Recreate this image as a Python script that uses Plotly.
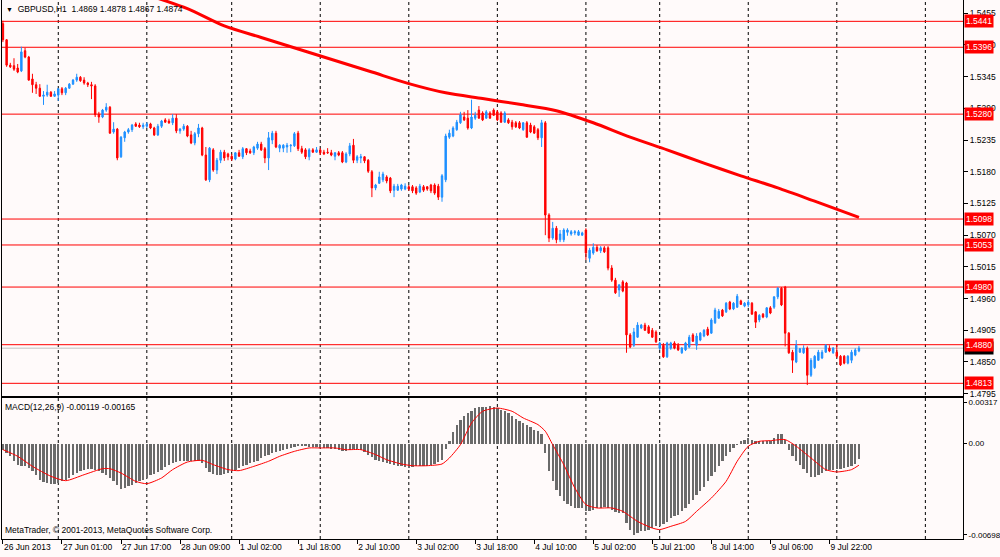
import plotly.graph_objects as go

# GBPUSD H1, bar 0 = 26 Jun 2013 09:00 (one bar per hour, weekend skipped)
opens = [
    1.5437, 1.5409, 1.5365, 1.5364, 1.5360, 1.5355, 1.5390, 1.5379, 1.5341, 1.5331,
    1.5325, 1.5311, 1.5313, 1.5318, 1.5311, 1.5313, 1.5324, 1.5317, 1.5325, 1.5332,
    1.5339, 1.5344, 1.5339, 1.5334, 1.5331, 1.5329, 1.5280, 1.5275, 1.5287, 1.5292,
    1.5249, 1.5254, 1.5206, 1.5239, 1.5249, 1.5253, 1.5263, 1.5261, 1.5258, 1.5259,
    1.5263, 1.5256, 1.5244, 1.5259, 1.5270, 1.5268, 1.5265, 1.5273, 1.5251, 1.5254,
    1.5259, 1.5244, 1.5230, 1.5246, 1.5256, 1.5209, 1.5166, 1.5218, 1.5183, 1.5200,
    1.5214, 1.5211, 1.5207, 1.5202, 1.5213, 1.5206, 1.5220, 1.5216, 1.5213, 1.5221,
    1.5228, 1.5220, 1.5204, 1.5235, 1.5247, 1.5221, 1.5221, 1.5223, 1.5225, 1.5225,
    1.5247, 1.5220, 1.5218, 1.5206, 1.5218, 1.5214, 1.5218, 1.5214, 1.5214, 1.5213,
    1.5207, 1.5213, 1.5213, 1.5197, 1.5211, 1.5226, 1.5200, 1.5204, 1.5206, 1.5200,
    1.5180, 1.5152, 1.5160, 1.5166, 1.5171, 1.5169, 1.5148, 1.5148, 1.5150, 1.5150,
    1.5154, 1.5154, 1.5152, 1.5145, 1.5154, 1.5154, 1.5157, 1.5157, 1.5155, 1.5136,
    1.5166, 1.5240, 1.5242, 1.5253, 1.5265, 1.5275, 1.5273, 1.5256, 1.5273, 1.5287,
    1.5282, 1.5273, 1.5282, 1.5287, 1.5284, 1.5282, 1.5266, 1.5270, 1.5266, 1.5265,
    1.5265, 1.5253, 1.5265, 1.5261, 1.5258, 1.5253, 1.5239, 1.5265, 1.5105, 1.5065,
    1.5082, 1.5062, 1.5062, 1.5075, 1.5072, 1.5074, 1.5070, 1.5070, 1.5079, 1.5030,
    1.5039, 1.5049, 1.5043, 1.5048, 1.5048, 1.5013, 1.4992, 1.4975, 1.4989, 1.4987,
    1.4897, 1.4879, 1.4893, 1.4909, 1.4914, 1.4911, 1.4905, 1.4902, 1.4874, 1.4879,
    1.4859, 1.4874, 1.4883, 1.4879, 1.4866, 1.4871, 1.4876, 1.4897, 1.4879, 1.4888,
    1.4895, 1.4907, 1.4900, 1.4918, 1.4926, 1.4940, 1.4937, 1.4954, 1.4942, 1.4945,
    1.4956, 1.4947, 1.4949, 1.4952, 1.4937, 1.4923, 1.4933, 1.4928, 1.4944, 1.4945,
    1.4963, 1.4978, 1.4980, 1.4900, 1.4867, 1.4850, 1.4867, 1.4866, 1.4874, 1.4827,
    1.4840, 1.4853, 1.4857, 1.4867, 1.4874, 1.4866, 1.4867, 1.4860, 1.4860, 1.4848,
    1.4853, 1.4862, 1.4869,
]
highs = [
    1.5442, 1.5410, 1.5369, 1.5377, 1.5367, 1.5397, 1.5395, 1.5381, 1.5350, 1.5336,
    1.5332, 1.5320, 1.5331, 1.5320, 1.5320, 1.5325, 1.5327, 1.5327, 1.5334, 1.5341,
    1.5350, 1.5346, 1.5344, 1.5336, 1.5336, 1.5332, 1.5284, 1.5289, 1.5299, 1.5294,
    1.5266, 1.5256, 1.5242, 1.5251, 1.5256, 1.5263, 1.5266, 1.5265, 1.5265, 1.5266,
    1.5265, 1.5258, 1.5263, 1.5270, 1.5273, 1.5272, 1.5280, 1.5280, 1.5256, 1.5263,
    1.5261, 1.5251, 1.5249, 1.5263, 1.5258, 1.5223, 1.5223, 1.5221, 1.5204, 1.5218,
    1.5218, 1.5213, 1.5211, 1.5214, 1.5218, 1.5223, 1.5221, 1.5220, 1.5225, 1.5232,
    1.5232, 1.5223, 1.5249, 1.5251, 1.5251, 1.5228, 1.5228, 1.5230, 1.5228, 1.5249,
    1.5251, 1.5225, 1.5221, 1.5221, 1.5221, 1.5223, 1.5221, 1.5218, 1.5221, 1.5218,
    1.5214, 1.5216, 1.5216, 1.5214, 1.5230, 1.5237, 1.5209, 1.5211, 1.5207, 1.5202,
    1.5183, 1.5159, 1.5180, 1.5180, 1.5174, 1.5171, 1.5159, 1.5159, 1.5159, 1.5160,
    1.5157, 1.5157, 1.5155, 1.5159, 1.5157, 1.5155, 1.5159, 1.5160, 1.5159, 1.5176,
    1.5246, 1.5253, 1.5259, 1.5270, 1.5284, 1.5284, 1.5287, 1.5305, 1.5284, 1.5294,
    1.5285, 1.5287, 1.5285, 1.5290, 1.5287, 1.5285, 1.5285, 1.5273, 1.5270, 1.5268,
    1.5268, 1.5266, 1.5268, 1.5265, 1.5261, 1.5256, 1.5270, 1.5268, 1.5108, 1.5093,
    1.5086, 1.5079, 1.5082, 1.5082, 1.5079, 1.5079, 1.5079, 1.5076, 1.5082, 1.5048,
    1.5056, 1.5053, 1.5051, 1.5051, 1.5051, 1.5018, 1.4996, 1.4984, 1.4992, 1.4989,
    1.4900, 1.4909, 1.4919, 1.4916, 1.4918, 1.4914, 1.4909, 1.4905, 1.4885, 1.4883,
    1.4885, 1.4885, 1.4886, 1.4883, 1.4876, 1.4885, 1.4897, 1.4900, 1.4900, 1.4902,
    1.4907, 1.4911, 1.4926, 1.4944, 1.4942, 1.4942, 1.4954, 1.4956, 1.4954, 1.4968,
    1.4958, 1.4954, 1.4958, 1.4954, 1.4938, 1.4933, 1.4935, 1.4945, 1.4947, 1.4964,
    1.4980, 1.4980, 1.4982, 1.4902, 1.4871, 1.4888, 1.4874, 1.4879, 1.4877, 1.4857,
    1.4862, 1.4871, 1.4871, 1.4881, 1.4879, 1.4876, 1.4881, 1.4862, 1.4862, 1.4862,
    1.4871, 1.4874, 1.4878,
]
lows = [
    1.5405, 1.5362, 1.5360, 1.5355, 1.5351, 1.5353, 1.5377, 1.5338, 1.5317, 1.5315,
    1.5310, 1.5296, 1.5310, 1.5310, 1.5310, 1.5303, 1.5313, 1.5313, 1.5324, 1.5331,
    1.5336, 1.5336, 1.5331, 1.5327, 1.5306, 1.5275, 1.5265, 1.5273, 1.5284, 1.5246,
    1.5246, 1.5200, 1.5204, 1.5232, 1.5246, 1.5249, 1.5258, 1.5256, 1.5254, 1.5256,
    1.5254, 1.5242, 1.5242, 1.5256, 1.5265, 1.5263, 1.5261, 1.5247, 1.5246, 1.5251,
    1.5240, 1.5228, 1.5226, 1.5240, 1.5207, 1.5164, 1.5162, 1.5180, 1.5176, 1.5195,
    1.5199, 1.5200, 1.5199, 1.5200, 1.5206, 1.5202, 1.5209, 1.5211, 1.5209, 1.5218,
    1.5216, 1.5195, 1.5183, 1.5228, 1.5221, 1.5214, 1.5214, 1.5213, 1.5214, 1.5223,
    1.5216, 1.5211, 1.5202, 1.5200, 1.5213, 1.5213, 1.5209, 1.5209, 1.5211, 1.5207,
    1.5200, 1.5207, 1.5195, 1.5195, 1.5207, 1.5195, 1.5195, 1.5195, 1.5195, 1.5178,
    1.5136, 1.5148, 1.5159, 1.5162, 1.5160, 1.5143, 1.5136, 1.5147, 1.5147, 1.5148,
    1.5147, 1.5143, 1.5140, 1.5143, 1.5145, 1.5147, 1.5143, 1.5140, 1.5131, 1.5128,
    1.5162, 1.5237, 1.5240, 1.5251, 1.5263, 1.5268, 1.5253, 1.5254, 1.5270, 1.5272,
    1.5268, 1.5272, 1.5272, 1.5277, 1.5268, 1.5265, 1.5265, 1.5263, 1.5253, 1.5256,
    1.5254, 1.5251, 1.5239, 1.5247, 1.5246, 1.5235, 1.5223, 1.5070, 1.5058, 1.5062,
    1.5056, 1.5058, 1.5058, 1.5069, 1.5069, 1.5070, 1.5069, 1.5069, 1.5027, 1.5023,
    1.5036, 1.5041, 1.5039, 1.5039, 1.5009, 1.4989, 1.4968, 1.4963, 1.4971, 1.4866,
    1.4874, 1.4876, 1.4892, 1.4907, 1.4904, 1.4899, 1.4892, 1.4883, 1.4871, 1.4857,
    1.4857, 1.4871, 1.4872, 1.4869, 1.4864, 1.4869, 1.4874, 1.4885, 1.4871, 1.4886,
    1.4893, 1.4895, 1.4899, 1.4916, 1.4925, 1.4928, 1.4935, 1.4940, 1.4940, 1.4944,
    1.4949, 1.4945, 1.4945, 1.4932, 1.4909, 1.4919, 1.4926, 1.4926, 1.4933, 1.4942,
    1.4959, 1.4947, 1.4877, 1.4864, 1.4831, 1.4848, 1.4866, 1.4864, 1.4810, 1.4824,
    1.4838, 1.4852, 1.4855, 1.4866, 1.4867, 1.4864, 1.4857, 1.4843, 1.4846, 1.4846,
    1.4848, 1.4860, 1.4867,
]
closes = [
    1.5409, 1.5365, 1.5362, 1.5358, 1.5353, 1.5388, 1.5379, 1.5339, 1.5331, 1.5325,
    1.5311, 1.5313, 1.5318, 1.5311, 1.5315, 1.5324, 1.5317, 1.5325, 1.5332, 1.5339,
    1.5344, 1.5338, 1.5334, 1.5331, 1.5329, 1.5279, 1.5275, 1.5287, 1.5292, 1.5247,
    1.5254, 1.5204, 1.5240, 1.5249, 1.5253, 1.5261, 1.5259, 1.5258, 1.5261, 1.5263,
    1.5256, 1.5244, 1.5259, 1.5268, 1.5266, 1.5265, 1.5273, 1.5251, 1.5254, 1.5259,
    1.5242, 1.5230, 1.5246, 1.5256, 1.5209, 1.5166, 1.5221, 1.5183, 1.5200, 1.5214,
    1.5204, 1.5206, 1.5202, 1.5213, 1.5207, 1.5220, 1.5213, 1.5213, 1.5223, 1.5228,
    1.5218, 1.5204, 1.5239, 1.5247, 1.5223, 1.5226, 1.5226, 1.5226, 1.5226, 1.5246,
    1.5220, 1.5214, 1.5206, 1.5218, 1.5214, 1.5218, 1.5213, 1.5211, 1.5213, 1.5209,
    1.5213, 1.5209, 1.5197, 1.5211, 1.5225, 1.5200, 1.5206, 1.5206, 1.5199, 1.5181,
    1.5152, 1.5157, 1.5171, 1.5176, 1.5164, 1.5147, 1.5155, 1.5155, 1.5157, 1.5155,
    1.5150, 1.5147, 1.5143, 1.5155, 1.5148, 1.5150, 1.5147, 1.5143, 1.5136, 1.5173,
    1.5242, 1.5247, 1.5256, 1.5266, 1.5279, 1.5270, 1.5256, 1.5275, 1.5278, 1.5273,
    1.5270, 1.5284, 1.5273, 1.5278, 1.5270, 1.5266, 1.5282, 1.5265, 1.5258, 1.5258,
    1.5256, 1.5265, 1.5240, 1.5249, 1.5247, 1.5239, 1.5265, 1.5105, 1.5065, 1.5082,
    1.5062, 1.5072, 1.5079, 1.5079, 1.5076, 1.5076, 1.5076, 1.5074, 1.5039, 1.5044,
    1.5049, 1.5043, 1.5048, 1.5041, 1.5013, 1.4992, 1.4970, 1.4984, 1.4973, 1.4897,
    1.4876, 1.4902, 1.4914, 1.4914, 1.4905, 1.4900, 1.4893, 1.4885, 1.4883, 1.4859,
    1.4883, 1.4883, 1.4874, 1.4871, 1.4874, 1.4883, 1.4893, 1.4886, 1.4895, 1.4900,
    1.4905, 1.4897, 1.4923, 1.4940, 1.4938, 1.4930, 1.4952, 1.4942, 1.4952, 1.4964,
    1.4950, 1.4952, 1.4954, 1.4933, 1.4919, 1.4931, 1.4928, 1.4944, 1.4935, 1.4963,
    1.4978, 1.4949, 1.4900, 1.4866, 1.4853, 1.4879, 1.4873, 1.4874, 1.4827, 1.4853,
    1.4860, 1.4867, 1.4867, 1.4879, 1.4869, 1.4874, 1.4860, 1.4845, 1.4848, 1.4860,
    1.4867, 1.4871, 1.4874,
]

# slow moving average drawn over the candles (starts above the window)
ma_bars = [40, 50, 60, 70, 80, 90, 100, 110, 120, 130, 140, 150, 160, 170, 180, 190, 200, 210, 220, 232]
ma_values = [1.5485, 1.5463, 1.5433, 1.5413, 1.5393, 1.5373, 1.5353, 1.5333, 1.5317, 1.5307,
             1.5297, 1.5286, 1.5265, 1.5240, 1.5218, 1.5195, 1.5173, 1.5152, 1.5129, 1.5101]

# MACD(12,26,9) main line, one value per bar
macd_main = [
    -0.00046, -0.00072, -0.00097, -0.00135, -0.00161, -0.00174, -0.00174, -0.00187, -0.00212, -0.00243,
    -0.00276, -0.00294, -0.00302, -0.00309, -0.00309, -0.00302, -0.00289, -0.00276, -0.00263, -0.00243,
    -0.00225, -0.00212, -0.00199, -0.00192, -0.00192, -0.00199, -0.00212, -0.00225, -0.00243, -0.00263,
    -0.00284, -0.00320, -0.00345, -0.00340, -0.00327, -0.00314, -0.00302, -0.00289, -0.00276, -0.00263,
    -0.00243, -0.00233, -0.00217, -0.00199, -0.00181, -0.00161, -0.00148, -0.00141, -0.00130, -0.00130,
    -0.00130, -0.00135, -0.00135, -0.00130, -0.00148, -0.00187, -0.00217, -0.00233, -0.00243, -0.00243,
    -0.00233, -0.00225, -0.00212, -0.00199, -0.00187, -0.00174, -0.00161, -0.00151, -0.00141, -0.00130,
    -0.00110, -0.00097, -0.00084, -0.00072, -0.00064, -0.00059, -0.00051, -0.00041, -0.00033, -0.00026,
    -0.00020, -0.00020, -0.00020, -0.00028, -0.00028, -0.00028, -0.00033, -0.00033, -0.00033, -0.00038,
    -0.00041, -0.00046, -0.00054, -0.00054, -0.00046, -0.00038, -0.00038, -0.00046, -0.00064, -0.00084,
    -0.00105, -0.00123, -0.00135, -0.00141, -0.00148, -0.00156, -0.00161, -0.00169, -0.00174, -0.00181,
    -0.00187, -0.00181, -0.00174, -0.00174, -0.00169, -0.00169, -0.00161, -0.00156, -0.00141, -0.00123,
    -0.00038, 0.00023, 0.00089, 0.00146, 0.00184, 0.00210, 0.00235, 0.00248, 0.00273, 0.00281,
    0.00281, 0.00281, 0.00286, 0.00281, 0.00273, 0.00261, 0.00248, 0.00235, 0.00210, 0.00192,
    0.00176, 0.00158, 0.00141, 0.00128, 0.00107, 0.00095, 0.00074, -0.00072, -0.00207, -0.00289,
    -0.00353, -0.00404, -0.00442, -0.00463, -0.00481, -0.00493, -0.00493, -0.00493, -0.00519, -0.00519,
    -0.00506, -0.00493, -0.00493, -0.00488, -0.00493, -0.00506, -0.00524, -0.00532, -0.00532, -0.00608,
    -0.00659, -0.00698, -0.00685, -0.00672, -0.00667, -0.00659, -0.00647, -0.00634, -0.00634, -0.00616,
    -0.00601, -0.00570, -0.00557, -0.00544, -0.00519, -0.00493, -0.00463, -0.00429, -0.00391, -0.00366,
    -0.00335, -0.00289, -0.00250, -0.00217, -0.00174, -0.00135, -0.00097, -0.00064, -0.00033, -0.00013,
    0.00018, 0.00031, 0.00043, 0.00031, 0.00018, 0.00018, 0.00018, 0.00023, 0.00023, 0.00043,
    0.00074, 0.00074, 0.00031, -0.00046, -0.00097, -0.00135, -0.00161, -0.00192, -0.00225, -0.00256,
    -0.00256, -0.00243, -0.00225, -0.00207, -0.00199, -0.00199, -0.00194, -0.00192, -0.00187, -0.00181,
    -0.00174, -0.00156, -0.00119,
]
# signal line, read at these bars
signal_bars = [0, 4, 8, 13, 17, 22, 27, 29, 32, 36, 39, 43, 46, 50, 54, 57, 61, 64, 68, 72,
               75, 79, 83, 86, 90, 93, 97, 101, 104, 108, 111, 115, 119, 121, 124, 127, 130, 134, 138, 141,
               145, 147, 149, 152, 155, 158, 161, 165, 168, 172, 176, 178, 181, 185, 188, 192, 196, 199, 202, 205,
               208, 212, 215, 219, 223, 226, 230, 232]
signal_values = [-0.00046, -0.00097, -0.00174, -0.00250, -0.00284, -0.00238, -0.00192, -0.00192, -0.00225, -0.00289,
                 -0.00307, -0.00263, -0.00199, -0.00141, -0.00128, -0.00161, -0.00199, -0.00207, -0.00174, -0.00135,
                 -0.00097, -0.00059, -0.00033, -0.00033, -0.00033, -0.00046, -0.00046, -0.00084, -0.00123, -0.00156,
                 -0.00169, -0.00169, -0.00156, -0.00110, -0.00008, 0.00158, 0.00248, 0.00273, 0.00248, 0.00197,
                 0.00146, 0.00095, -0.00008, -0.00161, -0.00340, -0.00468, -0.00493, -0.00493, -0.00519, -0.00596,
                 -0.00647, -0.00659, -0.00634, -0.00596, -0.00519, -0.00417, -0.00289, -0.00135, -0.00020, 0.00018,
                 0.00023, 0.00031, -0.00020, -0.00110, -0.00199, -0.00217, -0.00199, -0.00165]

# horizontal levels drawn on the chart, plus the current bid
levels = [1.5441, 1.5396, 1.5280, 1.5098, 1.5053, 1.4980, 1.4880, 1.4813]
bid = 1.4874

price_ticks = [1.5455, 1.5400, 1.5345, 1.5290, 1.5235, 1.5180, 1.5125, 1.5070, 1.5015, 1.4960, 1.4905, 1.4850, 1.4795]
macd_ticks = [0.00317, 0.0, -0.00698]
macd_tick_text = ["0.00317", "0.00", "-0.00698"]

time_bars = [0, 16, 32, 48, 64, 80, 96, 112, 128, 144, 160, 176, 192, 208, 224]
time_labels = ["26 Jun 2013", "27 Jun 01:00", "27 Jun 17:00", "28 Jun 09:00", "1 Jul 02:00", "1 Jul 18:00",
               "2 Jul 10:00", "3 Jul 02:00", "3 Jul 18:00", "4 Jul 10:00", "5 Jul 02:00", "5 Jul 21:00",
               "8 Jul 14:00", "9 Jul 06:00", "9 Jul 22:00"]
day_bars = [15, 39, 62, 86, 110, 134, 158, 178, 202, 226, 250]  # day separators (00:00)

BG = "#fffafa"
BULL = "#1e90ff"
BEAR = "#ff0000"
FONT = "Liberation Sans, Arial, sans-serif"
FS = 8.5

bars = list(range(len(closes)))

fig = go.Figure()

fig.add_trace(go.Candlestick(
    x=bars, open=opens, high=highs, low=lows, close=closes,
    increasing=dict(line=dict(color=BULL, width=1), fillcolor=BULL),
    decreasing=dict(line=dict(color=BEAR, width=1), fillcolor=BEAR),
    whiskerwidth=0, showlegend=False, xaxis="x", yaxis="y", name="GBPUSD",
))
fig.add_trace(go.Scatter(
    x=ma_bars, y=ma_values, mode="lines", line=dict(color=BEAR, width=3, shape="spline", smoothing=0.8),
    showlegend=False, xaxis="x", yaxis="y", hoverinfo="skip",
))
fig.add_trace(go.Bar(
    x=bars, y=macd_main, marker=dict(color="#6a6a6a", line=dict(width=0)), width=0.62,
    showlegend=False, xaxis="x2", yaxis="y2", name="MACD",
))
fig.add_trace(go.Scatter(
    x=signal_bars, y=signal_values, mode="lines", line=dict(color=BEAR, width=1, shape="spline", smoothing=0.6),
    showlegend=False, xaxis="x2", yaxis="y2", name="Signal",
))

shapes = []
for b in day_bars:
    shapes.append(dict(type="line", xref="x", yref="paper", x0=b, x1=b, y0=0, y1=1,
                       line=dict(color="black", width=1, dash="3px,3px"), layer="below"))
shapes.append(dict(type="line", xref="paper", yref="y", x0=0, x1=1, y0=bid, y1=bid,
                   line=dict(color="#c0c0c0", width=1), layer="below"))
for lv in levels:
    shapes.append(dict(type="line", xref="paper", yref="y", x0=0, x1=1, y0=lv, y1=lv,
                       line=dict(color=BEAR, width=1), layer="below"))

annotations = [
    dict(xref="paper", yref="paper", x=0, y=1, xanchor="left", yanchor="top", xshift=2, yshift=-2,
         text="<span style='font-size:7px'>▼</span>  GBPUSD,H1  1.4869 1.4878 1.4867 1.4874",
         showarrow=False, font=dict(size=FS, color="black", family=FONT)),
    dict(xref="paper", yref="paper", x=0, y=0.2616, xanchor="left", yanchor="top", xshift=1, yshift=-2,
         text="MACD(12,26,9) -0.00119 -0.00165",
         showarrow=False, font=dict(size=FS, color="black", family=FONT)),
    dict(xref="paper", yref="paper", x=0, y=0, xanchor="left", yanchor="bottom", xshift=1, yshift=2,
         text="MetaTrader, © 2001-2013, MetaQuotes Software Corp.",
         showarrow=False, font=dict(size=FS, color="black", family=FONT)),
    dict(xref="paper", yref="y", x=1, y=bid, xanchor="left", yanchor="middle", xshift=1,
         text=f"{bid:.4f}", showarrow=False, bgcolor="black", borderpad=1,
         font=dict(size=FS, color="white", family=FONT)),
]
for lv in levels:
    annotations.append(dict(xref="paper", yref="y", x=1, y=lv, xanchor="left", yanchor="middle", xshift=1,
                            text=f"{lv:.4f}", showarrow=False, bgcolor=BEAR, borderpad=1,
                            font=dict(size=FS, color="white", family=FONT)))

axis_common = dict(showgrid=False, zeroline=False, showline=True, linecolor="black", linewidth=1,
                   automargin=False)

fig.update_layout(
    width=1000, height=557,
    margin=dict(l=2, r=37, t=0, b=18),
    paper_bgcolor=BG, plot_bgcolor="rgba(0,0,0,0)",
    font=dict(family=FONT, size=FS, color="black"),
    boxgap=0.45,
    bargap=0,
    showlegend=False,
    hovermode=False,
    xaxis=dict(domain=[0, 1], anchor="y", range=[-0.25, 260.2], showticklabels=False, ticks="",
               rangeslider=dict(visible=False), **axis_common),
    yaxis=dict(domain=[0.2653, 1], anchor="x", range=[1.4791, 1.5478], side="right", mirror=True,
               tickvals=price_ticks, ticktext=[f"{t:.4f}" for t in price_ticks],
               tickfont=dict(size=FS, family=FONT, color="black"),
               ticks="outside", ticklen=4, tickcolor="black", **axis_common),
    xaxis2=dict(domain=[0, 1], anchor="y2", range=[-0.25, 260.2], matches="x", mirror=True,
                tickvals=time_bars, ticktext=time_labels, ticks="outside", ticklen=4, tickcolor="black",
                tickfont=dict(size=FS, family=FONT, color="black"),
                tickangle=0, ticklabelposition="outside right", **axis_common),
    yaxis2=dict(domain=[0, 0.2616], anchor="x2", range=[-0.00731, 0.0035], side="right", mirror=True,
                tickvals=macd_ticks, ticktext=macd_tick_text,
                tickfont=dict(size=8, family=FONT, color="black"),
                ticks="outside", ticklen=3, tickcolor="black", **axis_common),
    shapes=shapes,
    annotations=annotations,
)

# the page body has a default 8px margin; remove it so the chart fills the window
fig.write_html("out.html", config={"displayModeBar": False, "staticPlot": True},
               post_script="document.body.style.margin='0';document.body.style.overflow='hidden';")
